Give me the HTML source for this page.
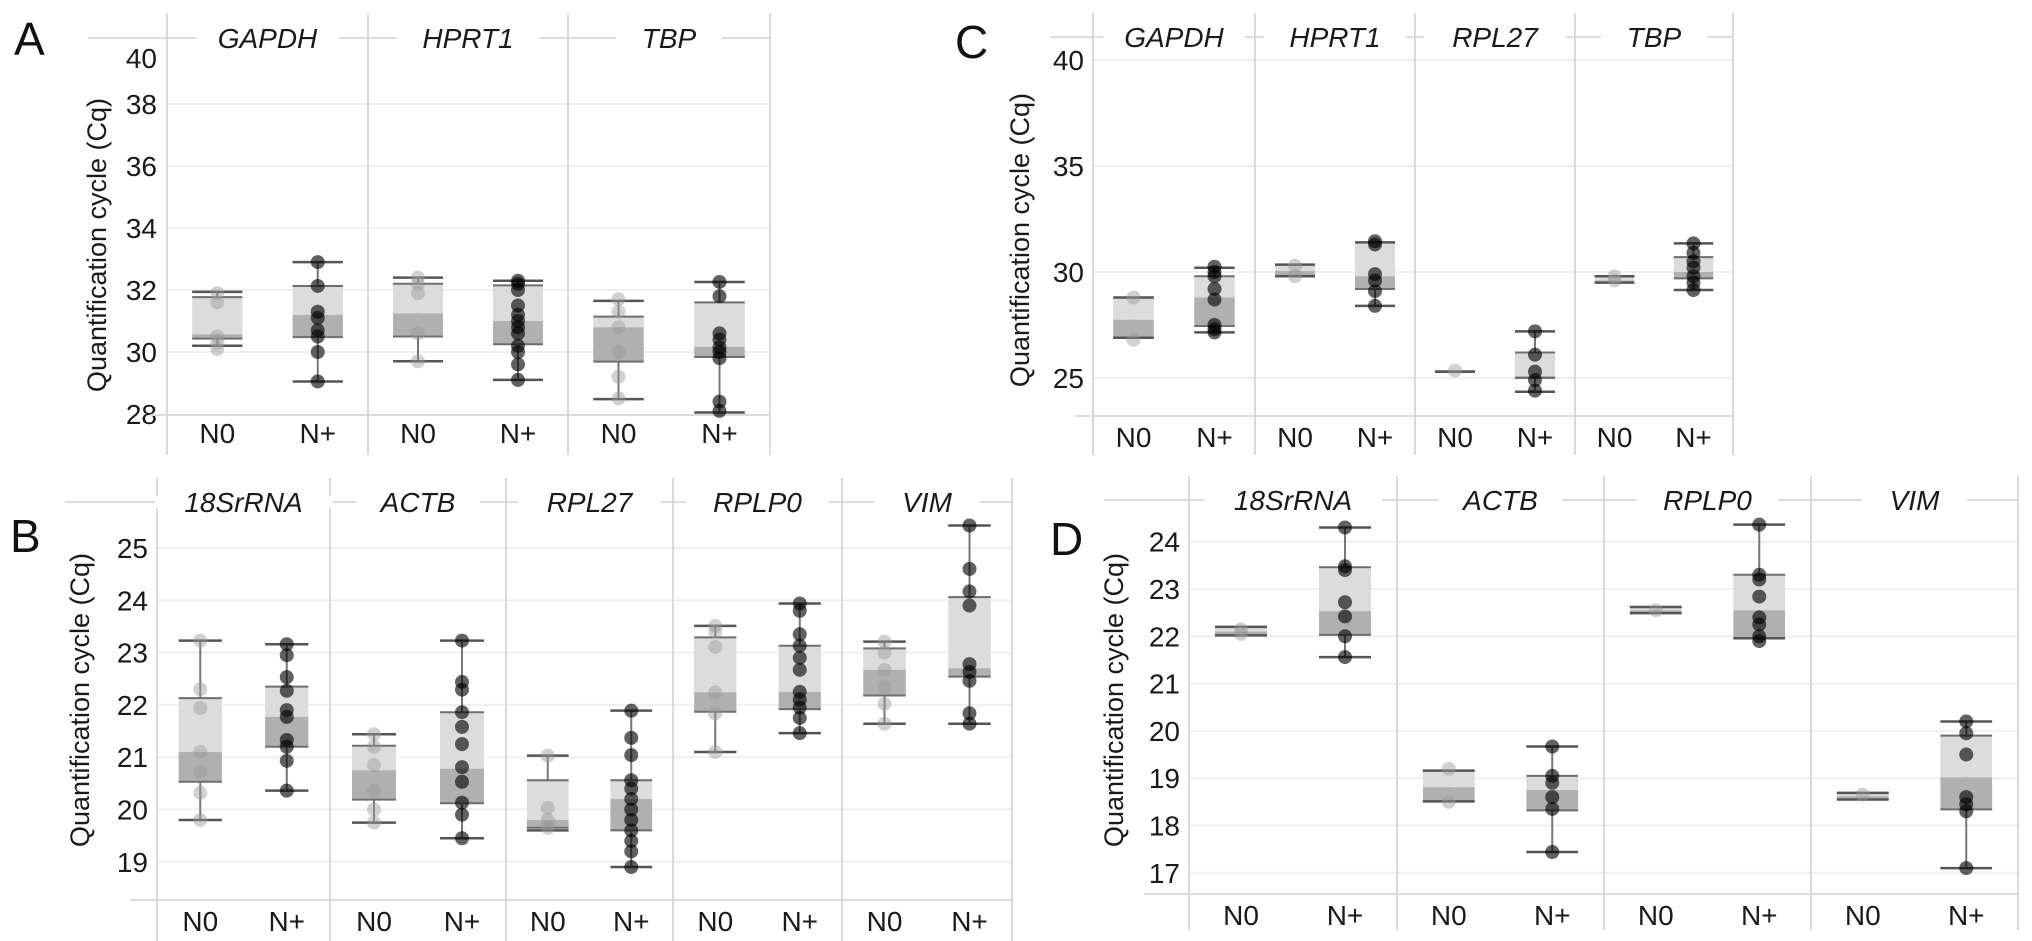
<!DOCTYPE html>
<html><head><meta charset="utf-8"><style>
html,body{margin:0;padding:0;background:#fff;}
svg{display:block;font-family:"Liberation Sans",Arial,sans-serif;}
</style></head><body>
<svg id="chart" width="2032" height="941" viewBox="0 0 2032 941" xmlns="http://www.w3.org/2000/svg"></svg>
<script>
// ---------- Panel A data ----------
const A_genes = ["GAPDH","HPRT1","TBP"];
const A_ticks = [28,30,32,34,36,38,40];
const A_N0_stats = [[30.2,30.43,30.57,31.77,31.94],[29.7,30.5,31.25,32.2,32.4],[28.48,29.69,30.8,31.14,31.65]];
const A_Np_stats = [[29.05,30.48,31.2,32.13,32.9],[29.1,30.25,31.0,32.15,32.3],[28.05,29.84,30.17,31.6,32.26]];
const A_N0_points = [[31.9,31.6,30.5,30.3,30.1],[32.4,32.2,31.9,30.6,29.7],[31.7,31.3,30.8,30.0,29.2,28.5]];
const A_Np_points = [[32.9,32.13,31.3,31.1,30.7,30.5,30.0,29.05],[32.3,32.2,32.0,31.5,31.2,31.0,30.8,30.6,30.2,30.0,29.6,29.1],[32.26,31.8,30.6,30.4,30.15,30.0,29.8,28.4,28.1]];
// ---------- Panel B data ----------
const B_genes = ["18SrRNA","ACTB","RPL27","RPLP0","VIM"];
const B_ticks = [19,20,21,22,23,24,25];
const B_N0_stats = [[19.8,20.53,21.1,22.13,23.23],[19.75,20.19,20.75,21.22,21.44],[19.6,19.65,19.8,20.56,21.03],[21.1,21.87,22.24,23.29,23.51],[21.64,22.18,22.67,23.08,23.21]];
const B_Np_stats = [[20.36,21.2,21.77,22.35,23.16],[19.45,20.12,20.78,21.86,23.23],[18.9,19.6,20.2,20.56,21.89],[21.46,21.92,22.25,23.13,23.94],[21.64,22.54,22.7,24.06,25.43]];
const B_N0_points = [[23.23,22.3,21.94,21.1,20.72,20.32,19.8],[21.44,21.2,20.85,20.36,20.0,19.75],[21.03,20.03,19.8,19.65],[23.51,23.4,23.11,22.24,21.84,21.1],[23.21,23.0,22.67,22.34,22.02,21.64]];
const B_Np_points = [[23.16,22.95,22.53,22.27,21.9,21.77,21.33,21.2,20.93,20.36],[23.23,22.44,22.29,21.86,21.58,21.25,20.81,20.53,20.13,19.9,19.45],[21.89,21.37,21.04,20.56,20.4,20.2,20.0,19.8,19.6,19.4,19.2,18.9],[23.94,23.8,23.35,23.13,22.9,22.67,22.25,22.1,21.95,21.75,21.46],[25.43,24.6,24.17,23.9,22.78,22.63,22.46,21.84,21.64]];
// ---------- Panel C data ----------
const C_genes = ["GAPDH","HPRT1","RPL27","TBP"];
const C_ticks = [25,30,35,40];
const C_N0_stats = [[26.9,26.9,27.75,28.8,28.8],[29.8,29.8,30.05,30.35,30.35],[25.3,25.3,25.3,25.3,25.3],[29.5,29.5,29.6,29.8,29.8]];
const C_Np_stats = [[27.15,27.45,28.8,29.8,30.2],[28.4,29.2,29.8,31.4,31.4],[24.35,25.0,25.1,26.2,27.2],[29.15,29.7,30.0,30.7,31.35]];
const C_N0_points = [[28.8,26.8],[30.3,29.8],[25.35],[29.8,29.6]];
const C_Np_points = [[30.25,30.0,29.8,29.2,28.7,27.5,27.3,27.15],[31.45,31.3,29.9,29.6,29.1,28.4],[27.2,26.1,25.3,24.9,24.4],[31.35,30.9,30.5,30.2,29.8,29.5,29.15]];
// ---------- Panel D data ----------
const D_genes = ["18SrRNA","ACTB","RPLP0","VIM"];
const D_ticks = [17,18,19,20,21,22,23,24];
const D_N0_stats = [[22.02,22.02,22.1,22.2,22.2],[18.51,18.51,18.81,19.16,19.16],[22.49,22.49,22.55,22.62,22.62],[18.55,18.55,18.62,18.69,18.69]];
const D_Np_stats = [[21.56,22.03,22.53,23.46,24.3],[17.44,18.32,18.75,19.05,19.67],[21.96,21.96,22.55,23.3,24.36],[17.1,18.34,19.02,19.9,20.2]];
const D_N0_points = [[22.15,22.05],[19.2,18.5],[22.55],[18.65]];
const D_Np_points = [[24.3,23.48,23.4,22.72,22.42,22.0,21.56],[19.67,19.05,18.9,18.6,18.35,17.44],[24.36,23.3,23.2,22.84,22.4,22.25,22.0,21.9],[20.2,19.95,19.5,18.6,18.45,18.3,17.1]];
const groups = ["N0","N+"];

const NS = "http://www.w3.org/2000/svg";
const svg = document.getElementById("chart");
function mk(tag, attrs, parent){
  const e = document.createElementNS(NS, tag);
  for (const k in attrs) e.setAttribute(k, attrs[k]);
  (parent||svg).appendChild(e);
  return e;
}

function panel(cfg){
  const g = mk("g", {});
  
  
  const edges = cfg.edges, left = edges[0], right = edges[edges.length-1];
  const y = v => cfg.y0 - (v - cfg.v0) * cfg.k;
  cfg.ticks.forEach(t => {
    const yy = y(t);
    if (yy > cfg.strip + 4 && yy < cfg.bottom - 2) {
      const gl = mk("line", {x1:left, x2:right, y1:yy, y2:yy, stroke:"#efefef", "stroke-width":2}, g);
      
      
    }
    const tl = mk("text", {x:cfg.tickX, y:Math.max(yy, cfg.minLabelY) + 10, "text-anchor":"end", "font-size":28, fill:"#1a1a1a"}, g);
    tl.textContent = t;
    
    
  });
  const ax = mk("line", {x1:cfg.axisStart, x2:right, y1:cfg.bottom, y2:cfg.bottom, stroke:"#dcdcdc", "stroke-width":2}, g);
  
  
  const sl = mk("line", {x1:cfg.stripStart, x2:right, y1:cfg.strip, y2:cfg.strip, stroke:"#dcdcdc", "stroke-width":2}, g);
  
  
  edges.forEach(ex => {
    const d = mk("line", {x1:ex, x2:ex, y1:cfg.top, y2:cfg.vEnd, stroke:"#dadada", "stroke-width":2}, g);
    
    
  });
  const ty = cfg.titleY;
  const tt = mk("text", {x:cfg.titleX, y:ty, "text-anchor":"middle", "font-size":27, fill:"#1a1a1a", transform:`rotate(-90 ${cfg.titleX} ${ty})`, dy:9}, g);
  tt.textContent = "Quantification cycle (Cq)";
  
  
  const pl = mk("text", {x:cfg.letterX, y:cfg.letterY, "font-size":46, fill:"#111"}, g);
  pl.textContent = cfg.id;
  
  

  cfg.genes.forEach((gene, i) => {
    const fx0 = edges[i], fw = edges[i+1] - edges[i];
    const mid = fx0 + fw/2;
    const gap = mk("rect", {x:mid - gene.length*9 - 26, y:cfg.strip - 6, width:gene.length*18 + 52, height:12, fill:"#fff"}, g);
    
    
    const st = mk("text", {x:mid, y:cfg.strip + 10, "text-anchor":"middle", "font-size":28, "font-style":"italic", fill:"#1a1a1a"}, g);
    st.textContent = gene;
    
    
    [0,1].forEach(j => {
      const stats = (j===0 ? cfg.n0s : cfg.nps)[i];
      const pts = (j===0 ? cfg.n0p : cfg.npp)[i];
      const cx = fx0 + fw * (j===0 ? 0.25 : 0.75);
      const bw = fw * 0.25;
      const [mn,q1,md,q3,mx] = stats;
      const bg = mk("g", {}, g);
      
      
      mk("line", {x1:cx, x2:cx, y1:y(mx), y2:y(mn), stroke:"#777", "stroke-width":2}, bg);
      mk("rect", {x:cx-bw/2, y:y(q3), width:bw, height:Math.max(0,y(md)-y(q3)), fill:"#dcdcdc"}, bg);
      mk("rect", {x:cx-bw/2, y:y(md), width:bw, height:Math.max(0,y(q1)-y(md)), fill:"#b0b0b0"}, bg);
      [q1,q3].forEach(v => mk("line", {x1:cx-bw/2, x2:cx+bw/2, y1:y(v), y2:y(v), stroke:"#6e6e6e", "stroke-width":2}, bg));
      [mn,mx].forEach(v => mk("line", {x1:cx-bw/2, x2:cx+bw/2, y1:y(v), y2:y(v), stroke:"#555", "stroke-width":2.5}, bg));
      pts.forEach(p => {
        const c = mk("circle", {cx:cx, cy:y(p), r:7, fill: j===0 ? "#999" : "#000", "fill-opacity": j===0 ? 0.45 : 0.62}, bg);
        
        
      });
      const xl = mk("text", {x:cx, y:cfg.xLabelY + 10, "text-anchor":"middle", "font-size":28, fill:"#1a1a1a"}, g);
      xl.textContent = groups[j];
      
      
    });
  });
}

panel({id:"A", genes:A_genes, ticks:A_ticks, n0s:A_N0_stats, nps:A_Np_stats, n0p:A_N0_points, npp:A_Np_points,
  edges:[167,368,568,770], v0:32, y0:290, k:31, bottom:415, top:13, vEnd:455, strip:38, stripStart:88,
  tickX:157, minLabelY:58, titleX:97, titleY:245, xLabelY:433, axisStart:150, letterX:14, letterY:55});
panel({id:"B", genes:B_genes, ticks:B_ticks, n0s:B_N0_stats, nps:B_Np_stats, n0p:B_N0_points, npp:B_Np_points,
  edges:[157,330,506,673,842,1012], v0:25, y0:548, k:52.3, bottom:900, top:478, vEnd:941, strip:502, stripStart:65,
  tickX:148, minLabelY:0, titleX:80, titleY:700, xLabelY:921, axisStart:130, letterX:10, letterY:552});
panel({id:"C", genes:C_genes, ticks:C_ticks, n0s:C_N0_stats, nps:C_Np_stats, n0p:C_N0_points, npp:C_Np_points,
  edges:[1093,1255,1415,1575,1733], v0:30, y0:272, k:21.2, bottom:416, top:13, vEnd:455, strip:37, stripStart:1050,
  tickX:1084, minLabelY:58, titleX:1020, titleY:240, xLabelY:437, axisStart:1075, letterX:955, letterY:58});
panel({id:"D", genes:D_genes, ticks:D_ticks, n0s:D_N0_stats, nps:D_Np_stats, n0p:D_N0_points, npp:D_Np_points,
  edges:[1189,1397,1604,1811,2018], v0:24, y0:541.7, k:47.3, bottom:894, top:476, vEnd:930, strip:500, stripStart:1104,
  tickX:1180, minLabelY:0, titleX:1114, titleY:700, xLabelY:915, axisStart:1144, letterX:1050, letterY:555});
</script>
</body></html>
